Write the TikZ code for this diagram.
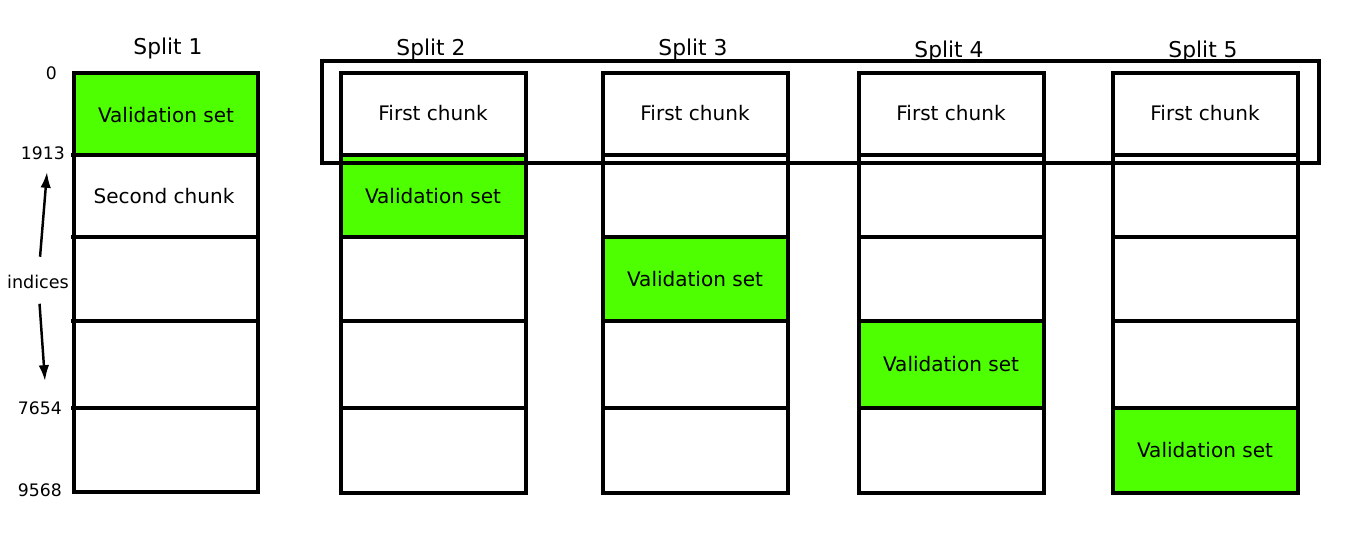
\documentclass[tikz,border=0pt]{standalone}
\usepackage{fontspec}
\setmainfont{DejaVu Sans}
\usetikzlibrary{positioning,arrows.meta}
\definecolor{valgreen}{HTML}{4DFF00}

\begin{document}
\begin{tikzpicture}[x=0.02cm, y=-0.02cm, >=Latex, font=\fontsize{11.4}{13}\selectfont,
    col/.style={draw=black, line width=1.8pt},
    sep/.style={draw=black, line width=2pt},
    title/.style={font=\fontsize{12.4}{14}\selectfont},
    idx/.style={font=\fontsize{9.8}{11}\selectfont, anchor=east},
    arr/.style={-{Latex[length=9pt,width=6pt]}, line width=1.4pt}]
  \useasboundingbox (0,0) rectangle (1369,541);

  % split 1
  \fill[valgreen] (74,73) rectangle (258,155);
  \draw[col] (74,73) rectangle (258,492);
  \foreach \y in {155,237,321,408} \draw[sep] (71,\y) -- (258,\y);
  \node (v1) at (166,115) {Validation set};
  \node (s1) at (164,196) {Second chunk};
  \node[title] (t1) at (168,48) {Split 1};

  % splits 2-5
  \foreach \x/\i/\a/\b/\t in {341/2/155/237/49, 603/3/237/321/49, 859/4/321/408/51, 1113/5/408/493/51} {
    \fill[valgreen] (\x,\a) rectangle (\x+185,\b);
    \draw[col] (\x,73) rectangle (\x+185,493);
    \foreach \y in {155,237,321,408} \draw[sep] (\x,\y) -- (\x+185,\y);
    \node (f\i) at (\x+92,113) {First chunk};
    \node (v\i) at (\x+92,{(\a+\b)/2}) {Validation set};
    \node[title] (t\i) at (\x+90,\t) {Split \i};
  }

  % frame round the first chunks
  \draw[col] (322,61) rectangle (1319,163);

  % indices
  \node[idx] (i0) at (63,73) {0};
  \node[idx] (i1) at (71,153) {1913};
  \node[idx] (i3) at (68,408) {7654};
  \node[idx] (i4) at (68,490) {9568};
  \node[font=\fontsize{10}{12}\selectfont] (ind) at (38,282) {indices};
  \coordinate (up) at (47,172);
  \coordinate (dn) at (45,381);
  \draw[arr, shorten <=7pt] (ind) -- (up);
  \draw[arr, shorten <=5pt] (ind) -- (dn);
\end{tikzpicture}
\end{document}
